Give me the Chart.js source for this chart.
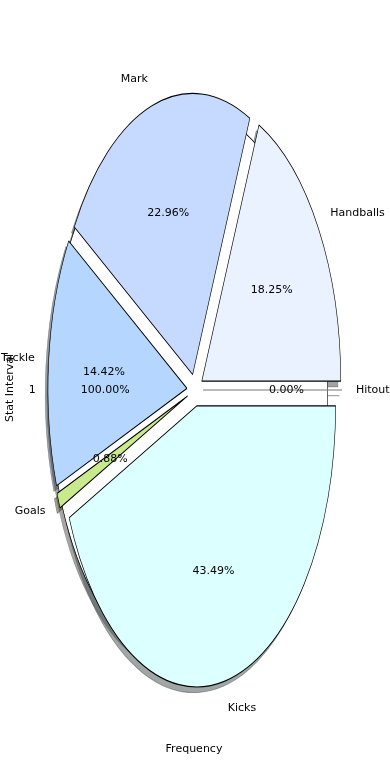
<!DOCTYPE html>
<html>
<head>
<meta charset="utf-8">
<script src="https://cdn.jsdelivr.net/npm/chart.js@4.4.0/dist/chart.umd.min.js"></script>
<style>
  html, body { margin: 0; padding: 0; background: #fff; }
  canvas { display: block; }
</style>
</head>
<body>
<canvas id="chart" width="390" height="780"></canvas>
<script>
// data
const categories = ['Handballs', 'Mark', 'Tackle', 'Goals', 'Kicks', 'Hitout'];
const frequency = [18.25, 22.96, 14.42, 0.88, 43.49, 0.00];
const sliceColors = ['#eaf1ff', '#c6d9ff', '#b5d6ff', '#c9ea8c', '#dcffff', '#ffffff'];
// the second one-slice pie sitting behind the main one
const intervalCategories = ['1'];
const intervalValues = [100];
const xLabel = 'Frequency';
const yLabel = 'Stat Interval';

// geometry of the stretched pie
const CX = 195, CY = 390;
const R = 139;              // horizontal radius in px
const K = 281 / 139;        // vertical stretch
const SHADOW = 0.02 * R;
const FONT = '11px "DejaVu Sans"';

function shadowColor(hex) {
    const n = parseInt(hex.slice(1), 16);
    const r = (n >> 16) & 255, g = (n >> 8) & 255, b = n & 255;
    return `rgba(${Math.round(r * 0.3)},${Math.round(g * 0.3)},${Math.round(b * 0.3)},0.5)`;
}

function midAngle(arc) {
    return (arc.startAngle + arc.endAngle) / 2;
}

function toScreen(rho, angle) {
    return [CX + rho * Math.cos(angle), CY - K * rho * Math.sin(angle)];
}

function layers(chart) {
    return [
        { meta: chart.getDatasetMeta(1), values: intervalValues, names: intervalCategories, explode: 0.045 * R },
        { meta: chart.getDatasetMeta(0), values: frequency, names: categories, explode: 0.058 * R }
    ];
}

const ellipsePie = {
    id: 'ellipsePie',
    beforeDatasetsDraw(chart) {
        const ctx = chart.ctx;
        ctx.save();
        ctx.translate(CX, CY);
        ctx.scale(1, -K);
        ctx.translate(-CX, -CY);

        // shadows go under every wedge
        layers(chart).forEach(l => {
            l.meta.data.forEach(arc => {
                const m = midAngle(arc);
                const x = arc.x + l.explode * Math.cos(m) - SHADOW;
                const y = arc.y + l.explode * Math.sin(m) - SHADOW;
                ctx.beginPath();
                ctx.moveTo(x, y);
                ctx.arc(x, y, R, arc.startAngle, arc.endAngle);
                ctx.closePath();
                ctx.fillStyle = shadowColor(arc.options.backgroundColor);
                ctx.strokeStyle = ctx.fillStyle;
                ctx.lineWidth = 0.5;
                ctx.fill();
                ctx.stroke();
            });
        });

        layers(chart).forEach((l, li) => {
            l.meta.data.forEach(arc => {
                const m = midAngle(arc);
                const dx = l.explode * Math.cos(m), dy = l.explode * Math.sin(m);
                ctx.save();
                ctx.translate(dx, dy);
                const inner = arc.innerRadius, outer = arc.outerRadius;
                arc.innerRadius = 0;
                arc.outerRadius = R;
                arc.draw(ctx);
                arc.innerRadius = inner;
                arc.outerRadius = outer;
                ctx.strokeStyle = '#000';
                ctx.lineWidth = 0.6;
                if (li === 0) {
                    // full wedge: rim only, no radial line
                    ctx.beginPath();
                    ctx.arc(arc.x, arc.y, R, 0, Math.PI * 2);
                    ctx.stroke();
                } else if (arc.endAngle - arc.startAngle === 0) {
                    // empty slice is drawn as a bare line
                    ctx.beginPath();
                    ctx.moveTo(arc.x, arc.y);
                    ctx.lineTo(arc.x + R * Math.cos(m), arc.y + R * Math.sin(m));
                    ctx.strokeStyle = '#777';
                    ctx.stroke();
                }
                ctx.restore();
            });
        });

        ctx.restore();
        return false;
    },
    afterDraw(chart) {
        const ctx = chart.ctx;
        ctx.save();
        ctx.font = FONT;
        ctx.fillStyle = '#000';
        ctx.textBaseline = 'middle';
        layers(chart).forEach(l => {
            const total = l.values.reduce((a, b) => a + b, 0);
            l.meta.data.forEach((arc, i) => {
                const m = midAngle(arc);
                const [lx, ly] = toScreen(l.explode + 1.1 * R, m);
                ctx.textAlign = Math.cos(m) > 0 ? 'left' : 'right';
                ctx.fillText(l.names[i], lx, ly);
                const [px, py] = toScreen(l.explode + 0.6 * R, m);
                ctx.textAlign = 'center';
                ctx.fillText((l.values[i] / total * 100).toFixed(2) + '%', px, py);
            });
        });

        ctx.textAlign = 'center';
        ctx.fillText(xLabel, 194, 749);
        ctx.translate(10, 388);
        ctx.rotate(-Math.PI / 2);
        ctx.fillText(yLabel, 0, 0);
        ctx.restore();
    }
};

new Chart(document.getElementById('chart'), {
    type: 'pie',
    data: {
        labels: categories,
        datasets: [
            {
                data: frequency,
                backgroundColor: sliceColors,
                borderColor: '#000',
                borderWidth: 0.6
            },
            {
                data: intervalValues,
                backgroundColor: ['#ffffff'],
                borderWidth: 0
            }
        ]
    },
    options: {
        responsive: false,
        animation: false,
        rotation: 90,
        events: [],
        layout: { padding: 0 },
        plugins: {
            legend: { display: false },
            tooltip: { enabled: false }
        }
    },
    plugins: [ellipsePie]
});
</script>
</body>
</html>
